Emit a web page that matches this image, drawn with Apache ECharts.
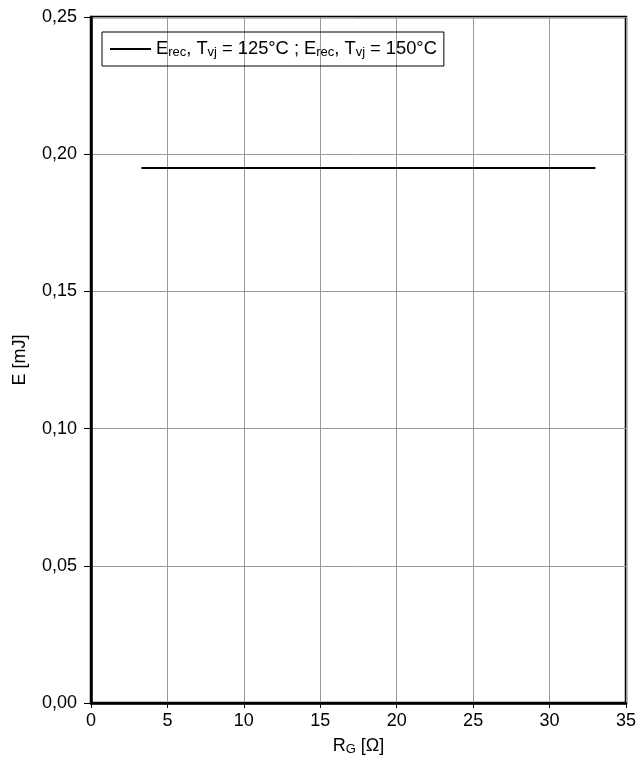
<!DOCTYPE html>
<html><head><meta charset="utf-8">
<script src="https://cdn.jsdelivr.net/npm/echarts@6/dist/echarts.min.js"></script>
<style>html,body{margin:0;padding:0;background:#fff}#c{width:639px;height:761px}</style>
</head><body><div id="c"></div>
<script>
const seriesName = 'Erec, Tvj = 125°C ; Erec, Tvj = 150°C';
const rgValues = [3.3, 33];
const eValues = [0.195, 0.195];
const xTicks = [0, 5, 10, 15, 20, 25, 30, 35];
const yTicks = ['0,00', '0,05', '0,10', '0,15', '0,20', '0,25'];

const chart = echarts.init(document.getElementById('c'));
const font = 'Liberation Sans, Arial, sans-serif';
chart.setOption({
  animation: false,
  grid: {left: 91, right: 12, top: 17, bottom: 57, show: true, borderColor: '#000', borderWidth: 2.5, backgroundColor: 'transparent'},
  legend: {
    left: 102, top: 32, orient: 'horizontal',
    borderColor: '#000', borderWidth: 1, padding: [8, 7, 7, 8],
    itemWidth: 41, itemHeight: 10, itemGap: 8,
    formatter: () => 'E{s|rec}, T{s|vj} = 125°C ; E{s|rec}, T{s|vj} = 150°C',
    textStyle: {fontFamily: font, fontSize: 18.3, color: '#000',
      rich: {s: {fontFamily: font, fontSize: 13, color: '#000', verticalAlign: 'bottom', padding: [7, 0, 0, 0]}}},
    data: [{name: seriesName, icon: 'path://M0,0 L41,0 L41,2 L0,2 Z', itemStyle: {color: '#000'}}]
  },
  xAxis: {
    type: 'value', min: 0, max: 35, interval: 5,
    name: 'R{s|G} [Ω]', nameLocation: 'middle', nameGap: 33,
    nameTextStyle: {fontFamily: font, fontSize: 18, color: '#000',
      rich: {s: {fontFamily: font, fontSize: 13, color: '#000', padding: [7, 0, 0, 0]}}},
    axisLine: {show: true, lineStyle: {color: '#000', width: 2.5}},
    axisTick: {show: true, length: 5, lineStyle: {color: '#000'}},
    axisLabel: {fontFamily: font, fontSize: 18, color: '#000', margin: 9,
      formatter: v => xTicks.includes(v) ? String(v) : ''},
    splitLine: {show: true, lineStyle: {color: '#999', width: 1}}
  },
  yAxis: {
    type: 'value', min: 0, max: 0.25, interval: 0.05,
    name: 'E [mJ]', nameLocation: 'middle', nameGap: 62, nameRotate: 90,
    nameTextStyle: {fontFamily: font, fontSize: 18, color: '#000'},
    axisLine: {show: true, lineStyle: {color: '#000', width: 2.5}},
    axisTick: {show: true, length: 7, lineStyle: {color: '#000'}},
    axisLabel: {fontFamily: font, fontSize: 18, color: '#000', margin: 14,
      formatter: v => yTicks[Math.round(v / 0.05)]},
    splitLine: {show: true, lineStyle: {color: '#999', width: 1}}
  },
  series: [{
    name: seriesName, type: 'line', symbol: 'none',
    lineStyle: {color: '#000', width: 2},
    itemStyle: {color: '#000'},
    data: rgValues.map((x, i) => [x, eValues[i]])
  }]
});
</script></body></html>
